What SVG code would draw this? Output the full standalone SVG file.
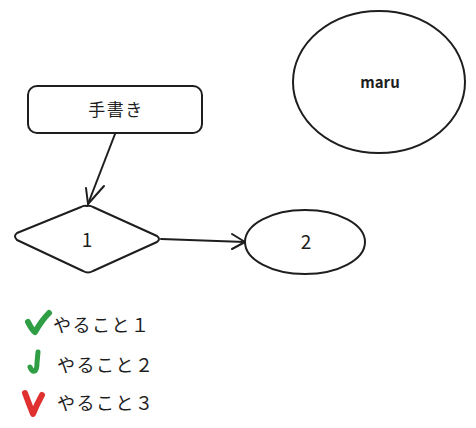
<svg xmlns="http://www.w3.org/2000/svg" width="476" height="428" viewBox="0 0 476 428">
<style>
.s{fill:none;stroke:#1e1e1e;stroke-width:2;stroke-linecap:round;stroke-linejoin:round}
.t{font-family:"Noto Sans CJK JP","Noto Sans",sans-serif;fill:#1e1e1e;text-anchor:middle;dominant-baseline:central}
.l{font-family:"Noto Sans CJK JP","Noto Sans",sans-serif;fill:#1e1e1e;font-size:18px;letter-spacing:1.5px}
.ck{fill:none;stroke-linecap:round;stroke-linejoin:round}
</style>
<rect width="476" height="428" fill="#ffffff"/>
<g id="connectors">
<path class="s" d="M115 134 L88 204"/>
<path class="s" d="M86 188 L88 204 L104 186"/>
<path class="s" d="M161 239 L245 242"/>
<path class="s" d="M232 234 L245 242 L232 249"/>
</g>
<g id="node-tegaki">
<rect class="s" x="28" y="86" width="174" height="47" rx="9"/>
<text class="t" x="116" y="108" font-size="17" letter-spacing="1.5">手書き</text>
</g>
<g id="node-1">
<path class="s" d="M87 206 Q90 205 93 207 L157 236 Q161 239 157 242 L93 271 Q88 274 83 271 L17 240 Q13 236 17 233 L81 207 Q84 205 87 206 Z"/>
<text class="t" x="87" y="238" font-size="19">1</text>
</g>
<g id="node-2">
<ellipse class="s" cx="305" cy="242" rx="60" ry="32"/>
<text class="t" x="306" y="240" font-size="19">2</text>
</g>
<g id="node-maru">
<ellipse class="s" cx="379" cy="82" rx="86" ry="71"/>
<text class="t" x="380" y="81" font-size="15" font-weight="600">maru</text>
</g>
<g id="todo">
<path class="ck" stroke="#2f9e44" stroke-width="6" d="M28 322 Q32 330 35 332 Q42 320 49 313"/>
<text class="l" x="53" y="332">やること１</text>
<path class="ck" stroke="#2f9e44" stroke-width="5" d="M30 367 Q32 372 35 371 Q37 369 37 363 L38 352"/>
<text class="l" x="57" y="372">やること２</text>
<path class="ck" stroke="#e03131" stroke-width="6" d="M25 393 Q29 404 33 414 Q37 404 42 395"/>
<text class="l" x="57" y="410">やること３</text>
</g>
</svg>
